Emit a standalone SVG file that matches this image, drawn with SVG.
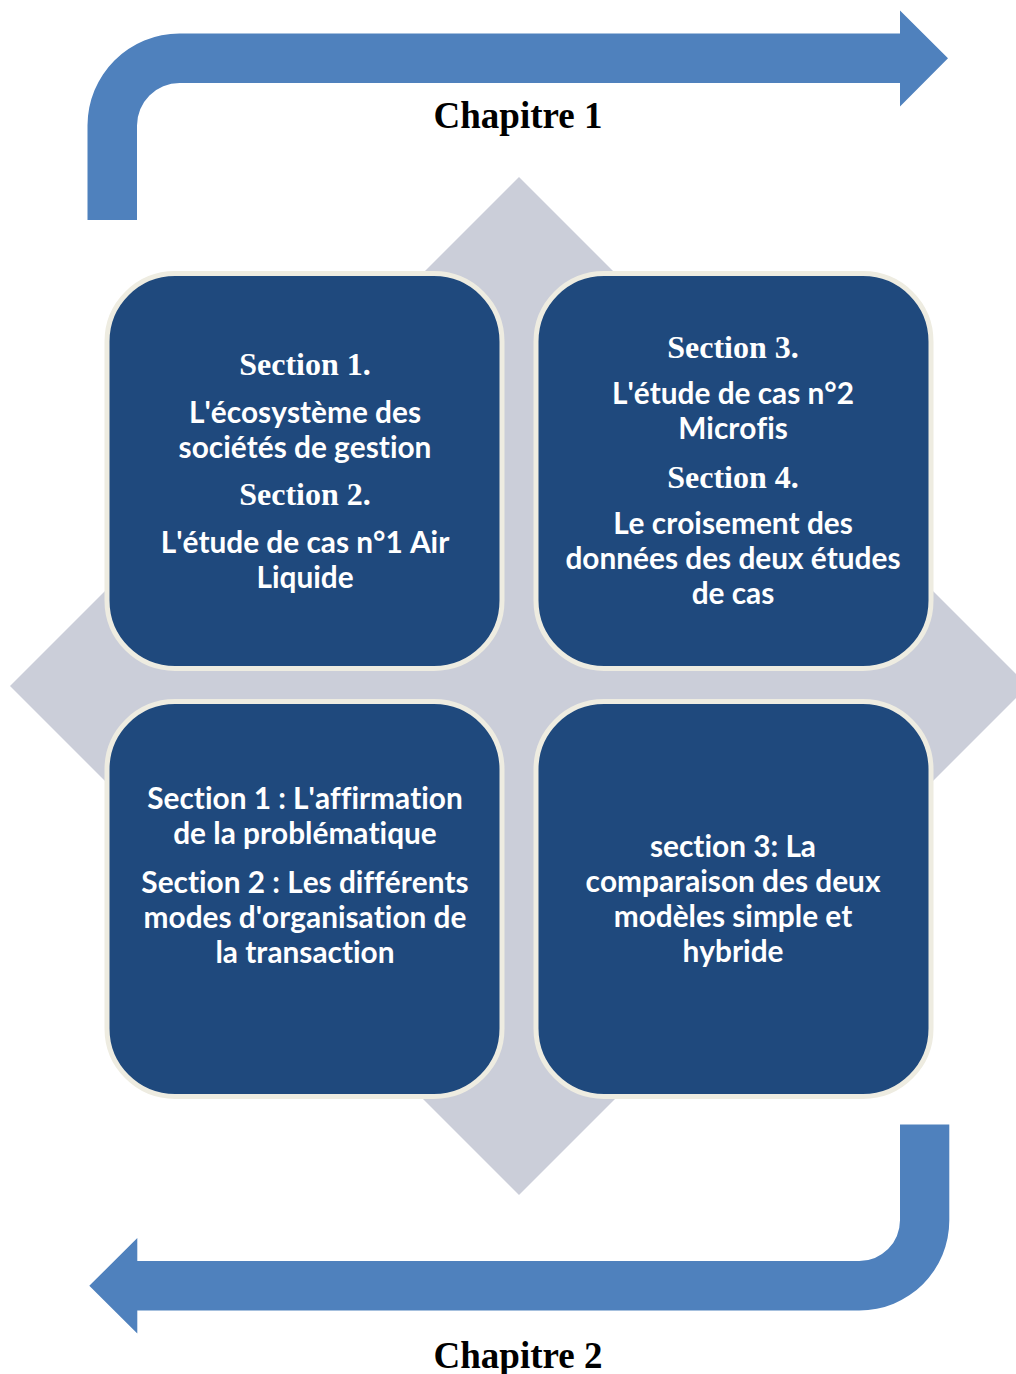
<svg xmlns="http://www.w3.org/2000/svg" width="1016" height="1374" viewBox="0 0 1016 1374">
<style>
.arrow{fill:#4F81BD}
.box{fill:#1F497D;stroke:#EEECE1;stroke-width:5}
.ser{font-family:"Liberation Serif","Times New Roman",serif;font-weight:bold;text-anchor:middle}
.sec{font-size:32px;fill:#FFFFFF}
.chap{font-size:37px;fill:#000000}
.txt{font-family:Lato,"Open Sans",sans-serif;font-weight:bold;font-size:29.8px;fill:#FFFFFF;text-anchor:middle;font-variant-ligatures:none;font-kerning:none}
</style>
<rect width="1016" height="1374" fill="#FFFFFF"/>
<polygon id="diamond" points="519,177 1028,686 519,1195 10,686" fill="#CBCED9"/>
<g id="connectors">
<path id="arrow-top" class="arrow" d="M87.5,220 V125.5 A92,92 0 0 1 179.5,33.5 H900 V10.5 L948,58.3 L900,106.5 V83 H179.5 A42.5,42.5 0 0 0 137,125.5 V220 Z"/>
<path id="arrow-bottom" class="arrow" d="M900,1124.5 H949.3 V1220.5 A90,90 0 0 1 859.3,1310.5 H137.3 V1333.5 L89.3,1285.8 L137.3,1238 V1261 H859.3 A40.7,40.7 0 0 0 900,1220.3 Z"/>
</g>
<g id="chapitre1"><text class="ser chap" x="518" y="128">Chapitre 1</text></g>
<g id="chapitre2"><text class="ser chap" x="518" y="1368">Chapitre 2</text></g>
<g id="node-tl">
<rect class="box" x="107" y="273.5" width="395" height="395" rx="68"/>
<text class="ser sec" x="305" y="375">Section 1.</text>
<text class="txt" x="305" y="423">L'écosystème des</text>
<text class="txt" x="305" y="458">sociétés de gestion</text>
<text class="ser sec" x="305" y="505">Section 2.</text>
<text class="txt" x="305" y="553">L'étude de cas n°1 Air</text>
<text class="txt" x="305" y="588">Liquide</text>
</g>
<g id="node-tr">
<rect class="box" x="536" y="273.5" width="395" height="395" rx="68"/>
<text class="ser sec" x="733" y="358">Section 3.</text>
<text class="txt" x="733" y="404">L'étude de cas n°2</text>
<text class="txt" x="733" y="439">Microfis</text>
<text class="ser sec" x="733" y="488">Section 4.</text>
<text class="txt" x="733" y="534">Le croisement des</text>
<text class="txt" x="733" y="569">données des deux études</text>
<text class="txt" x="733" y="604">de cas</text>
</g>
<g id="node-bl">
<rect class="box" x="107" y="701.5" width="395" height="395" rx="68"/>
<text class="txt" x="305" y="809">Section 1 : L'affirmation</text>
<text class="txt" x="305" y="844">de la problématique</text>
<text class="txt" x="305" y="893">Section 2 : Les différents</text>
<text class="txt" x="305" y="928">modes d'organisation de</text>
<text class="txt" x="305" y="963">la transaction</text>
</g>
<g id="node-br">
<rect class="box" x="536" y="701.5" width="395" height="395" rx="68"/>
<text class="txt" x="733" y="857">section 3: La</text>
<text class="txt" x="733" y="892">comparaison des deux</text>
<text class="txt" x="733" y="927">modèles simple et</text>
<text class="txt" x="733" y="962">hybride</text>
</g>
</svg>
